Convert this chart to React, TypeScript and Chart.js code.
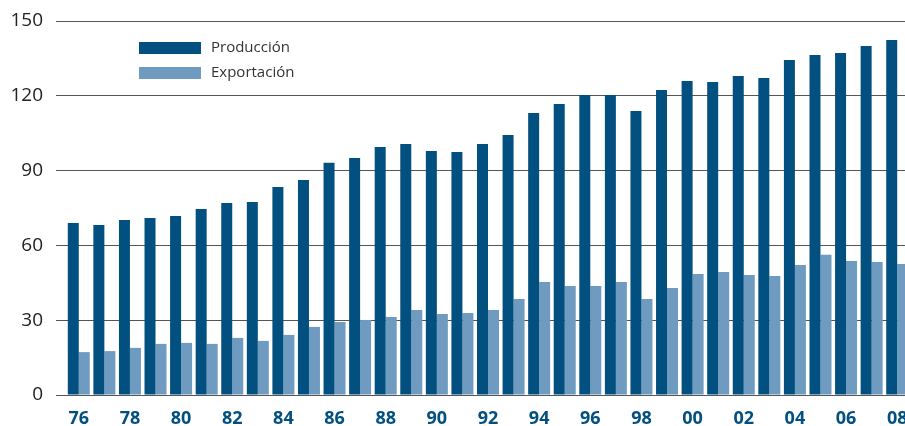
import React, { useEffect, useRef } from "react";
import { Chart, registerables } from "chart.js";

Chart.register(...registerables);

const years: string[] = [
  "76", "77", "78", "79", "80", "81", "82", "83", "84", "85",
  "86", "87", "88", "89", "90", "91", "92", "93", "94", "95",
  "96", "97", "98", "99", "00", "01", "02", "03", "04", "05",
  "06", "07", "08",
];
const produccion: number[] = [
  69.0, 68.2, 70.2, 71.0, 71.8, 74.6, 77.0, 77.4, 83.4, 86.2,
  93.1, 95.1, 99.5, 100.7, 97.9, 97.5, 100.7, 104.3, 113.1, 116.7,
  120.3, 120.3, 113.9, 122.3, 125.9, 125.5, 127.9, 127.1, 134.4, 136.4,
  137.2, 140.0, 142.4,
];
const exportacion: number[] = [
  17.2, 17.6, 18.9, 20.5, 20.9, 20.5, 22.9, 21.7, 24.1, 27.3,
  29.3, 30.1, 31.3, 34.1, 32.5, 32.9, 34.1, 38.5, 45.3, 43.7,
  43.7, 45.3, 38.5, 42.9, 48.5, 49.3, 48.1, 47.7, 52.1, 56.2,
  53.7, 53.3, 52.5,
];
const yTicks: number[] = [0, 30, 60, 90, 120, 150];
const seriesNames: string[] = ["Producción", "Exportación"];

const DARK = "#02507F";
const LIGHT = "#6E9BBF";
const FONT = "'Open Sans', 'Noto Sans', sans-serif";

const legendPlugin = {
  id: "customLegend",
  afterDraw(chart: any) {
    const ctx = chart.ctx;
    const x0 = 139;
    const y0 = 42;
    const gap = 25;
    ctx.save();
    chart.data.datasets.forEach((ds: any, i: number) => {
      const y = y0 + i * gap;
      ctx.fillStyle = ds.backgroundColor;
      ctx.fillRect(x0, y, 62, 12);
      ctx.fillStyle = "#333333";
      ctx.font = `15px ${FONT}`;
      ctx.textBaseline = "middle";
      ctx.textAlign = "left";
      ctx.fillText(ds.label, x0 + 72, y + 6);
    });
    ctx.restore();
  },
};

export default function App() {
  const ref = useRef<HTMLCanvasElement | null>(null);
  useEffect(() => {
    document.body.style.margin = "0";
    const canvas = ref.current;
    if (!canvas) return;
    const chart = new Chart(canvas, {
      type: "bar",
      data: {
        labels: years,
        datasets: [
          {
            label: seriesNames[0],
            data: produccion,
            backgroundColor: DARK,
            barPercentage: 1,
            categoryPercentage: 0.86,
          },
          {
            label: seriesNames[1],
            data: exportacion,
            backgroundColor: LIGHT,
            barPercentage: 1,
            categoryPercentage: 0.86,
          },
        ],
      },
      options: {
        animation: false,
        responsive: false,
        maintainAspectRatio: false,
        layout: { padding: { left: 0, top: 21, right: 0, bottom: 0 } },
        plugins: {
          legend: { display: false },
          tooltip: { enabled: false },
        },
        scales: {
          x: {
            grid: { display: false, drawTicks: false },
            border: { display: false },
            afterFit: (axis: any) => {
              axis.height = 31;
              axis.paddingLeft = 0;
              axis.paddingRight = 0;
            },
            ticks: {
              autoSkip: false,
              maxRotation: 0,
              padding: 13,
              color: DARK,
              font: { family: FONT, size: 18, weight: "bold" },
              callback: (_v: any, i: number) => (i % 2 === 0 ? years[i] : ""),
            },
          },
          y: {
            min: 0,
            max: 150,
            afterBuildTicks: (axis: any) => {
              axis.ticks = yTicks.map((v) => ({ value: v }));
            },
            afterFit: (axis: any) => {
              axis.width = 66;
              axis.paddingTop = 0;
              axis.paddingBottom = 0;
            },
            grid: {
              color: "#555555",
              lineWidth: 1,
              drawTicks: true,
              tickLength: 10,
            },
            border: { display: false },
            ticks: {
              padding: 13,
              color: "#222222",
              font: { family: FONT, size: 19 },
            },
          },
        },
      },
      plugins: [legendPlugin],
    });
    return () => chart.destroy();
  }, []);
  return (
    <div
      style={{
        position: "fixed",
        left: 0,
        top: 0,
        width: 905,
        height: 426,
        overflow: "hidden",
        background: "#fff",
      }}
    >
      <canvas ref={ref} width={910} height={426} style={{ display: "block" }} />
    </div>
  );
}
